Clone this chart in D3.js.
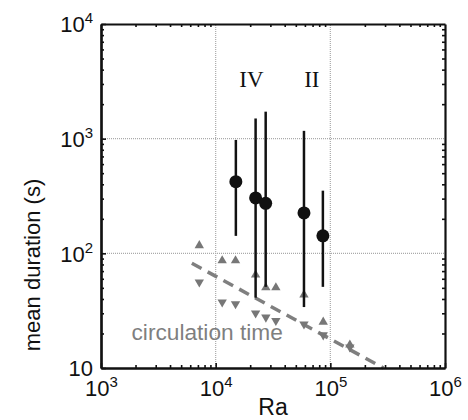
<!DOCTYPE html>
<html>
<head>
<meta charset="utf-8">
<script src="https://cdnjs.cloudflare.com/ajax/libs/d3/7.8.5/d3.min.js"></script>
<style>
  body { margin: 0; background: #fff; }
  text { font-family: "Liberation Sans", Arial, sans-serif; }
</style>
</head>
<body>
<svg id="chart" width="468" height="420"></svg>
<script>
// Rayleigh number of each run with mean duration and error bar range (s)
var runRa = [15000, 22300, 27300, 58900, 86100];
var meanDuration = [422, 304, 273, 225, 142];
var durationLow = [142, 41, 51, 34, 51];
var durationHigh = [975, 1500, 1720, 1170, 352];

// circulation time estimates (upper and lower)
var circRaUp = [7200, 11400, 14900, 22300, 27400, 33500, 58900, 86700, 148000];
var circUp = [117, 86.4, 86.4, 65, 50.3, 50.3, 43.4, 25.2, 15.9];
var circRaDown = [7200, 11400, 14900, 22300, 27400, 33500, 58900, 86700, 148000];
var circDown = [56, 37.5, 36.2, 30.1, 27.7, 25.9, 24.1, 19.4, 15.2];

// scaling line
var fitRa = [6200, 290000];
var fitTime = [82, 10];

var xTicks = [1e3, 1e4, 1e5, 1e6];
var yTicks = [10, 1e2, 1e3, 1e4];
var regimeLabels = [{ text: "IV", ra: 20500 }, { text: "II", ra: 69000 }];

var margin = { left: 101, right: 23, top: 24, bottom: 52 };
var width = 468, height = 420;

var svg = d3.select("#chart");

var xScale =
  d3.scaleLog()
    .domain([1e3, 1e6])
    .range([margin.left, width - margin.right]);

var yScale =
  d3.scaleLog()
    .domain([10, 1e4])
    .range([height - margin.bottom, margin.top]);

var x0 = margin.left, x1 = width - margin.right;
var y0 = height - margin.bottom, y1 = margin.top;

// grid
svg.append("g")
  .selectAll("line.gx")
  .data([1e4, 1e5])
  .join("line")
    .attr("x1", d => xScale(d)).attr("x2", d => xScale(d))
    .attr("y1", y0).attr("y2", y1)
    .attr("stroke", "#aaa")
    .attr("stroke-width", 1.2)
    .attr("stroke-dasharray", "1,1");

svg.append("g")
  .selectAll("line.gy")
  .data([1e2, 1e3])
  .join("line")
    .attr("y1", d => yScale(d)).attr("y2", d => yScale(d))
    .attr("x1", x0).attr("x2", x1)
    .attr("stroke", "#aaa")
    .attr("stroke-width", 1.2)
    .attr("stroke-dasharray", "1,1");

// scaling line
svg.append("path")
  .datum(d3.zip(fitRa, fitTime))
  .attr("d", d3.line().x(d => xScale(d[0])).y(d => yScale(d[1])))
  .attr("fill", "none")
  .attr("stroke", "#7f7f7f")
  .attr("stroke-width", 3.5)
  .attr("stroke-dasharray", "11,7");

// triangles
var tri = d3.symbol().type(d3.symbolTriangle).size(38);

svg.append("g")
  .selectAll("path")
  .data(d3.zip(circRaUp, circUp))
  .join("path")
    .attr("d", tri)
    .attr("transform", d => `translate(${xScale(d[0])},${yScale(d[1])})`)
    .attr("fill", "#777");

svg.append("g")
  .selectAll("path")
  .data(d3.zip(circRaDown, circDown))
  .join("path")
    .attr("d", tri)
    .attr("transform", d => `translate(${xScale(d[0])},${yScale(d[1])}) rotate(180)`)
    .attr("fill", "#777");

// error bars and means
var runs = runRa.map((r, i) => ({ ra: r, mean: meanDuration[i], lo: durationLow[i], hi: durationHigh[i] }));

svg.append("g")
  .selectAll("line")
  .data(runs)
  .join("line")
    .attr("x1", d => xScale(d.ra)).attr("x2", d => xScale(d.ra))
    .attr("y1", d => yScale(d.lo)).attr("y2", d => yScale(d.hi))
    .attr("stroke", "#111")
    .attr("stroke-width", 2.5);

svg.append("g")
  .selectAll("circle")
  .data(runs)
  .join("circle")
    .attr("cx", d => xScale(d.ra))
    .attr("cy", d => yScale(d.mean))
    .attr("r", 6.5)
    .attr("fill", "#111");

// axes: minor and major ticks on all four sides, pointing in
var minorX = d3.range(3, 6).flatMap(e => d3.range(2, 10).map(m => m * Math.pow(10, e)));
var minorY = d3.range(1, 4).flatMap(e => d3.range(2, 10).map(m => m * Math.pow(10, e)));

function styleAxis(g) {
  g.select(".domain").attr("stroke", "#111").attr("stroke-width", 2.2);
  g.selectAll(".tick line").attr("stroke", "#111").attr("stroke-width", 1.6);
}

function supLabel(sel) {
  sel.each(function(d) {
    var t = d3.select(this).text("");
    var e = Math.round(Math.log10(d));
    t.append("tspan").text("10");
    if (e > 1) {
      t.append("tspan")
        .text(e)
        .attr("font-size", "15px")
        .attr("dy", "-0.6em");
    }
  });
}

svg.append("g")
  .attr("transform", `translate(0,${y0})`)
  .call(d3.axisBottom(xScale).tickValues(minorX).tickSize(-3).tickSizeOuter(0).tickFormat(""))
  .call(styleAxis);

svg.append("g")
  .attr("transform", `translate(0,${y1})`)
  .call(d3.axisTop(xScale).tickValues(minorX).tickSize(-3).tickSizeOuter(0).tickFormat(""))
  .call(styleAxis);

svg.append("g")
  .attr("transform", `translate(${x0},0)`)
  .call(d3.axisLeft(yScale).tickValues(minorY).tickSize(-3).tickSizeOuter(0).tickFormat(""))
  .call(styleAxis);

svg.append("g")
  .attr("transform", `translate(${x1},0)`)
  .call(d3.axisRight(yScale).tickValues(minorY).tickSize(-3).tickSizeOuter(0).tickFormat(""))
  .call(styleAxis);

var xAxis =
  svg.append("g")
    .attr("transform", `translate(0,${y0})`)
    .call(d3.axisBottom(xScale).tickValues(xTicks).tickSize(-5).tickSizeOuter(0).tickPadding(12))
    .call(styleAxis);

xAxis.selectAll(".tick text")
  .attr("font-size", "22px")
  .attr("fill", "#111")
  .attr("dy", "0.71em")
  .call(supLabel);

var yAxis =
  svg.append("g")
    .attr("transform", `translate(${x0},0)`)
    .call(d3.axisLeft(yScale).tickValues(yTicks).tickSize(-5).tickSizeOuter(0).tickPadding(8))
    .call(styleAxis);

yAxis.selectAll(".tick text")
  .attr("font-size", "22px")
  .attr("fill", "#111")
  .attr("dy", "0.36em")
  .call(supLabel);

// regime labels
svg.append("g")
  .selectAll("text")
  .data(regimeLabels)
  .join("text")
    .attr("x", d => xScale(d.ra))
    .attr("y", 87)
    .attr("text-anchor", "middle")
    .style("font-family", "'Liberation Serif', 'Times New Roman', serif")
    .style("font-size", "23px")
    .attr("fill", "#111")
    .text(d => d.text);

svg.append("text")
  .attr("x", 131.5)
  .attr("y", 340)
  .attr("font-size", "22.7px")
  .attr("fill", "#7f7f7f")
  .text("circulation time");

// axis titles
svg.append("text")
  .attr("x", xScale(Math.sqrt(1e3 * 1e6)))
  .attr("y", 415)
  .attr("text-anchor", "middle")
  .attr("font-size", "23px")
  .attr("fill", "#111")
  .text("Ra");

svg.append("text")
  .attr("transform", `translate(40,265) rotate(-90)`)
  .attr("text-anchor", "middle")
  .attr("font-size", "22px")
  .attr("fill", "#111")
  .text("mean duration (s)");
</script>
</body>
</html>
